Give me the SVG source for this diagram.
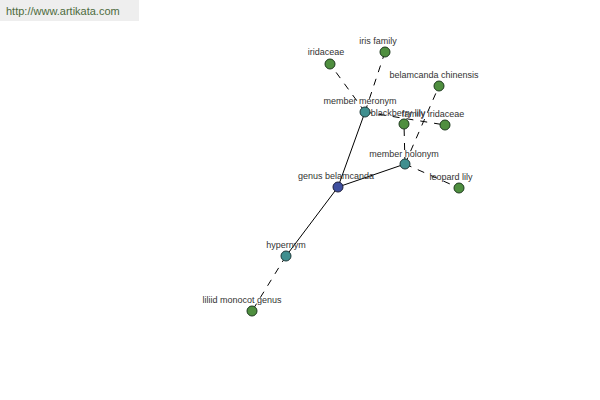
<svg xmlns="http://www.w3.org/2000/svg" width="600" height="400" viewBox="0 0 600 400">
<style>
text{font-family:"Liberation Sans",Arial,sans-serif;font-size:9px;fill:#333;text-anchor:middle}
.e{stroke:#000;stroke-width:1;fill:none}
.d{stroke-dasharray:7,7}
.g{fill:#4f8f3f;stroke:#1e3a1e;stroke-width:1}
.t{fill:#3f8f8f;stroke:#1e3a3a;stroke-width:1}
.b{fill:#3f4f9f;stroke:#1e1e3a;stroke-width:1}
</style>
<rect x="0" y="0" width="139" height="21" fill="#eeeeee"/>
<text x="6" y="15" style="text-anchor:start;font-size:11px;fill:#4d6b3d">http://www.artikata.com</text>
<g id="connectors">
<line class="e" x1="338" y1="187" x2="365" y2="112"/>
<line class="e" x1="338" y1="187" x2="405" y2="164"/>
<line class="e" x1="338" y1="187" x2="286" y2="256"/>
<line class="e d" x1="365" y1="112" x2="330" y2="64"/>
<line class="e d" x1="365" y1="112" x2="385" y2="52"/>
<line class="e d" x1="365" y1="112" x2="445" y2="125"/>
<line class="e d" x1="405" y1="164" x2="439" y2="86"/>
<line class="e d" x1="405" y1="164" x2="404" y2="124"/>
<line class="e d" x1="405" y1="164" x2="459" y2="188"/>
<line class="e d" x1="286" y1="256" x2="252" y2="311"/>
</g>
<g id="iridaceae"><circle class="g" cx="330" cy="64" r="5"/><text x="326" y="55">iridaceae</text></g>
<g id="iris-family"><circle class="g" cx="385" cy="52" r="5"/><text x="378" y="44">iris family</text></g>
<g id="belamcanda-chinensis"><circle class="g" cx="439" cy="86" r="5"/><text x="434" y="78">belamcanda chinensis</text></g>
<g id="blackberry-lily"><circle class="g" cx="404" cy="124" r="5"/><text x="398" y="116">blackberry lily</text></g>
<g id="family-iridaceae"><circle class="g" cx="445" cy="125" r="5"/><text x="433" y="117">family iridaceae</text></g>
<g id="leopard-lily"><circle class="g" cx="459" cy="188" r="5"/><text x="451" y="180">leopard lily</text></g>
<g id="liliid-monocot-genus"><circle class="g" cx="252" cy="311" r="5"/><text x="242" y="303">liliid monocot genus</text></g>
<g id="member-meronym"><circle class="t" cx="365" cy="112" r="5"/><text x="360" y="104">member meronym</text></g>
<g id="member-holonym"><circle class="t" cx="405" cy="164" r="5"/><text x="404" y="157">member holonym</text></g>
<g id="hypernym"><circle class="t" cx="286" cy="256" r="5"/><text x="286" y="248">hypernym</text></g>
<g id="genus-belamcanda"><circle class="b" cx="338" cy="187" r="5"/><text x="336" y="179">genus belamcanda</text></g>
</svg>
